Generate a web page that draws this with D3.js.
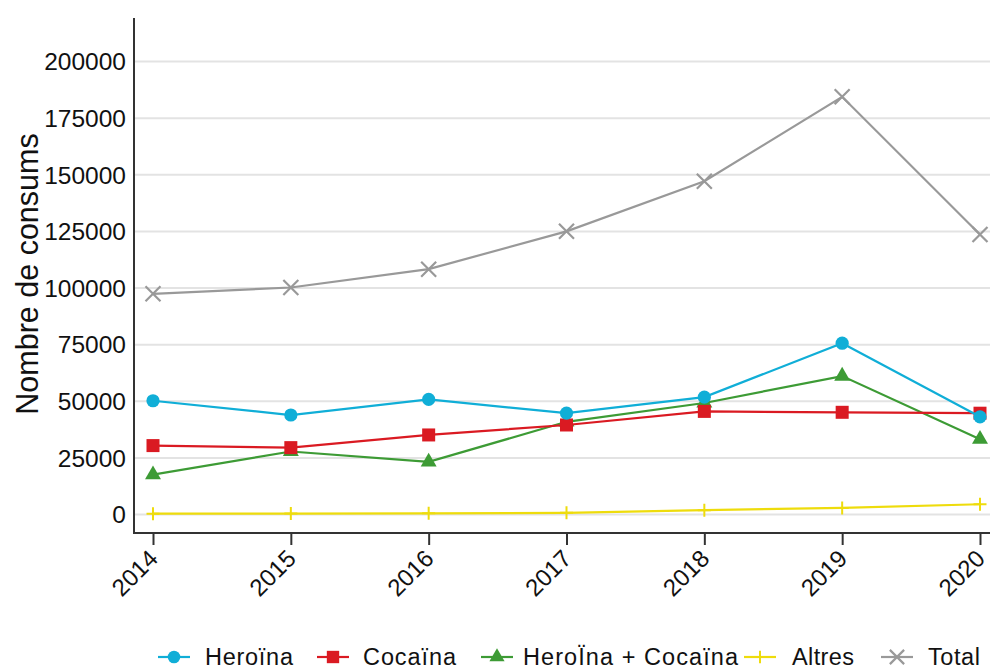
<!DOCTYPE html>
<html>
<head>
<meta charset="utf-8">
<script src="https://cdn.jsdelivr.net/npm/d3@7"></script>
<style>
  html, body { margin: 0; padding: 0; background: #fff; }
  svg { display: block; font-family: "Liberation Sans", Arial, sans-serif; }
</style>
</head>
<body>
<svg id="chart" width="990" height="666"></svg>
<script>
// ---- Data ----
const years = [2014, 2015, 2016, 2017, 2018, 2019, 2020];
const heroina = [50000, 43700, 50600, 44500, 51600, 75400, 42900];
const cocaina = [30200, 29300, 34900, 39300, 45300, 44900, 44500];
const heroinaCocaina = [17400, 27600, 23000, 40700, 49000, 60900, 33000];
const altres = [150, 200, 300, 500, 1700, 2700, 4300];
const total = [97200, 100000, 108100, 124800, 146900, 184200, 123400];
const yTicks = [0, 25000, 50000, 75000, 100000, 125000, 150000, 175000, 200000];
const seriesNames = ["Heroïna", "Cocaïna", "HeroÏna + Cocaïna", "Altres", "Total"];
const yTitle = "Nombre de consums";

// ---- Styles ----
const series = [
  { name: seriesNames[0], values: heroina, color: "#10AED7", marker: "circle" },
  { name: seriesNames[1], values: cocaina, color: "#DA1A22", marker: "square" },
  { name: seriesNames[2], values: heroinaCocaina, color: "#3D9B35", marker: "triangle" },
  { name: seriesNames[3], values: altres, color: "#EEDC0C", marker: "plus" },
  { name: seriesNames[4], values: total, color: "#999999", marker: "cross" }
];

const svg = d3.select("#chart");
const plot = { left: 134, right: 990, top: 18, bottom: 533 };

const x = d3.scaleLinear().domain([2014, 2020]).range([153, 980]);
const y = d3.scaleLinear().domain([0, 200000]).range([514, 61]);

// gridlines
const grid = svg.append("g")
  .attr("transform", `translate(${plot.left},0)`)
  .call(d3.axisLeft(y).tickValues(yTicks).tickSize(-(plot.right - plot.left)).tickFormat(""));
grid.select(".domain").remove();
grid.selectAll("line").attr("stroke", "#E3E3E3").attr("stroke-width", 2);

// y axis labels
const yAxis = svg.append("g")
  .attr("transform", `translate(${plot.left},0)`)
  .call(d3.axisLeft(y).tickValues(yTicks).tickSize(0).tickPadding(8).tickFormat(d3.format("d")));
yAxis.select(".domain").remove();
yAxis.selectAll("text")
  .attr("font-size", 24.5)
  .attr("font-family", "Liberation Sans, Arial, sans-serif")
  .attr("fill", "#111")
  .attr("dy", "0.36em");

// x axis
const xAxis = svg.append("g")
  .attr("transform", `translate(0,${plot.bottom})`)
  .call(d3.axisBottom(x).tickValues(years).tickSize(12).tickFormat(d3.format("d")));
xAxis.select(".domain").remove();
xAxis.selectAll("line").attr("stroke", "#333").attr("stroke-width", 2);
xAxis.selectAll("text")
  .attr("font-size", 24)
  .attr("font-family", "Liberation Sans, Arial, sans-serif")
  .attr("fill", "#111")
  .attr("text-anchor", "end")
  .attr("dy", null)
  .attr("y", 0)
  .attr("transform", "translate(6,27) rotate(-45)");

// axis lines
svg.append("line")
  .attr("x1", plot.left).attr("x2", plot.left)
  .attr("y1", plot.top).attr("y2", plot.bottom)
  .attr("stroke", "#333").attr("stroke-width", 2);
svg.append("line")
  .attr("x1", plot.left - 1).attr("x2", plot.right)
  .attr("y1", plot.bottom).attr("y2", plot.bottom)
  .attr("stroke", "#333").attr("stroke-width", 2);

// y title
svg.append("text")
  .attr("transform", `translate(38,${(130 + 418) / 2}) rotate(-90)`)
  .attr("text-anchor", "middle")
  .attr("font-size", 30.5)
  .attr("fill", "#111")
  .text(yTitle);

// marker drawing
function drawMarker(g, type, color, cx, cy, scale) {
  scale = scale || 1;
  if (type === "circle") {
    g.append("circle").attr("cx", cx).attr("cy", cy).attr("r", 6.6 * scale).attr("fill", color);
  } else if (type === "square") {
    const s = 13 * scale;
    g.append("rect").attr("x", cx - s / 2).attr("y", cy - s / 2).attr("width", s).attr("height", s).attr("fill", color);
  } else if (type === "triangle") {
    g.append("path")
      .attr("transform", `translate(${cx},${cy})`)
      .attr("d", d3.symbol().type(d3.symbolTriangle).size(110 * scale * scale)())
      .attr("fill", color);
  } else if (type === "plus") {
    const a = 6.5 * scale;
    g.append("path")
      .attr("d", `M${cx - a},${cy}H${cx + a}M${cx},${cy - a}V${cy + a}`)
      .attr("stroke", color).attr("stroke-width", 2).attr("fill", "none");
  } else if (type === "cross") {
    const a = 7.5 * scale;
    g.append("path")
      .attr("d", `M${cx - a},${cy - a}L${cx + a},${cy + a}M${cx - a},${cy + a}L${cx + a},${cy - a}`)
      .attr("stroke", color).attr("stroke-width", 2.2).attr("fill", "none");
  }
}

// lines & markers (draw in reverse so Heroïna on top)
const line = d3.line().x((d, i) => x(years[i])).y(d => y(d));
const drawOrder = [4, 3, 2, 1, 0];
drawOrder.forEach(idx => {
  const s = series[idx];
  const g = svg.append("g");
  g.append("path").datum(s.values)
    .attr("d", line)
    .attr("fill", "none")
    .attr("stroke", s.color)
    .attr("stroke-width", 2.2);
  s.values.forEach((v, i) => drawMarker(g, s.marker, s.color, x(years[i]), y(v)));
});

// legend
const legendItems = [
  { sym: 174, text: 205, w: 88 },
  { sym: 333, text: 363, w: 93 },
  { sym: 497, text: 523, w: 215 },
  { sym: 760, text: 792, w: 62 },
  { sym: 897, text: 928, w: 52 }
];
const legendY = 657;
const lg = svg.append("g");
series.forEach((s, i) => {
  const it = legendItems[i];
  lg.append("line")
    .attr("x1", it.sym - 16).attr("x2", it.sym + 16)
    .attr("y1", legendY).attr("y2", legendY)
    .attr("stroke", s.color).attr("stroke-width", 2.2);
  drawMarker(lg, s.marker, s.color, it.sym, legendY, 0.95);
  lg.append("text")
    .attr("x", it.text).attr("y", legendY + 8)
    .attr("font-size", 23.5)
    .attr("fill", "#111")
    .attr("textLength", it.w)
    .attr("lengthAdjust", "spacing")
    .text(s.name);
});
</script>
</body>
</html>
